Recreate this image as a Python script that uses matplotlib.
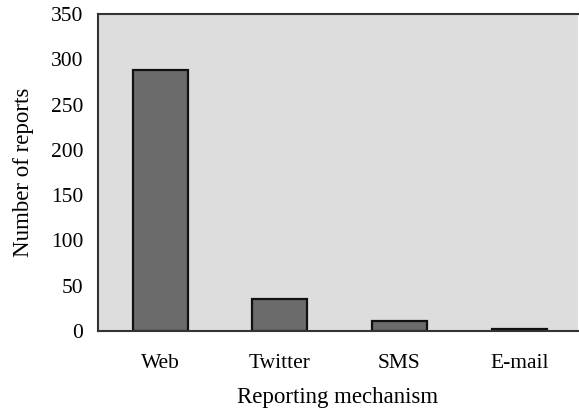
import matplotlib.pyplot as plt

plt.rcParams['font.family'] = ['Liberation Serif', 'DejaVu Serif']

mechanisms = ['Web', 'Twitter', 'SMS', 'E-mail']
reports = [288, 35, 11, 2]

fig = plt.figure(figsize=(5.79, 4.12), dpi=100)
ax = fig.add_axes([0.169, 0.197, 0.829, 0.769])
ax.set_facecolor('#dcdddc')

ax.bar(range(len(mechanisms)), reports, width=0.46, color='#6b6b6b',
       edgecolor='#111111', linewidth=1.6)

ax.set_xlim(-0.52, 3.49)
ax.set_ylim(0, 350)
ax.set_yticks(range(0, 351, 50))
ax.set_xticks(range(len(mechanisms)))
ax.set_xticklabels(mechanisms)
ax.tick_params(length=0, labelsize=15.5)
ax.tick_params(axis='x', pad=17)
ax.tick_params(axis='y', pad=10.5)

for side in ['left', 'top', 'bottom']:
    ax.spines[side].set_color('#333333')
    ax.spines[side].set_linewidth(1.5)
ax.spines['right'].set_visible(False)

ax.set_xlabel('Reporting mechanism', fontsize=16.5, labelpad=10)
ax.set_ylabel('Number of reports', fontsize=16.5, labelpad=12)

fig.savefig('out.png', dpi=100)
